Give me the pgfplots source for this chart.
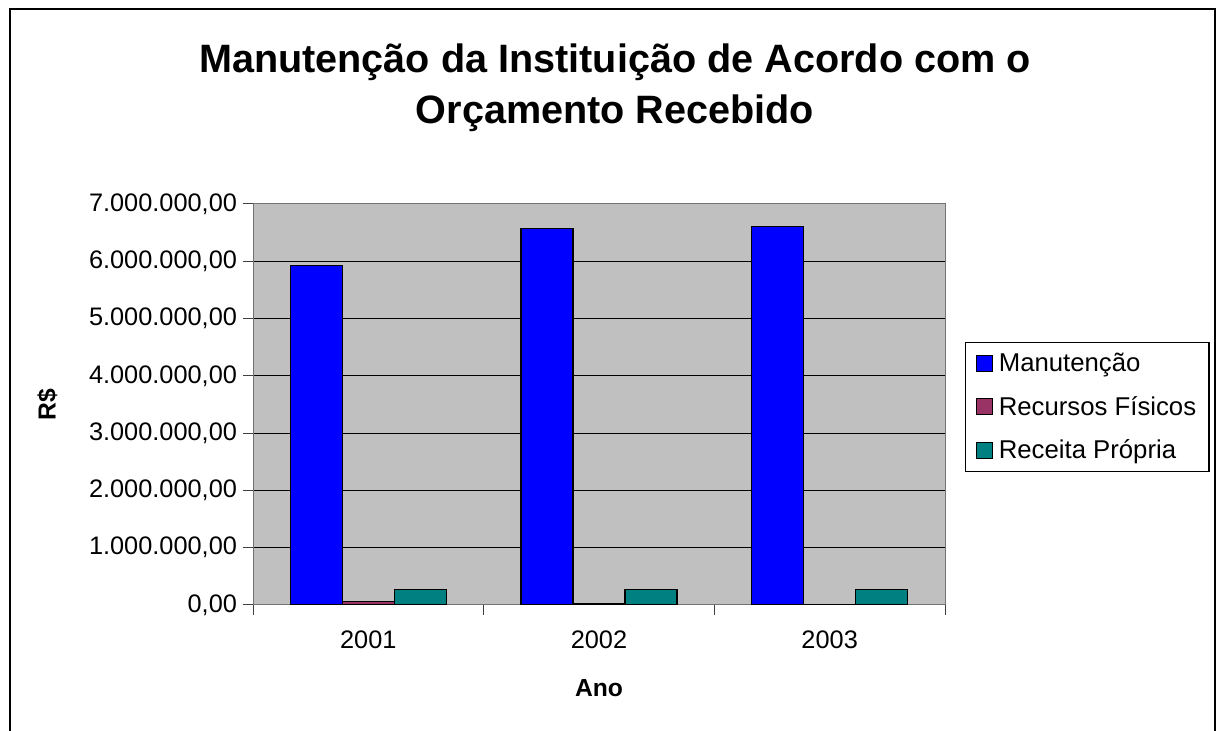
\documentclass[border=0pt]{standalone}
\usepackage{pgfplots}
\pgfplotsset{compat=1.18}
\usepackage{fontspec}
\setmainfont{Liberation Sans}
\definecolor{manut}{RGB}{0,0,255}
\definecolor{recfis}{RGB}{153,51,102}
\definecolor{recprop}{RGB}{0,128,128}
\definecolor{plotbg}{RGB}{192,192,192}
\pgfplotsset{sqlegend/.style={legend image code/.code={\draw[##1,/tikz/.cd,draw=black,line width=0.75pt] (0pt,-6pt) rectangle (12pt,6pt); \path (14.5pt,0pt);}}}
\begin{document}
\begin{tikzpicture}[x=1pt,y=1pt]
\useasboundingbox (0,0) rectangle (912.75,548.25);
\fill[white] (0,0) rectangle (912.75,548.25);
\draw[line width=1.5pt] (7.5,-10) -- (7.5,541.5) -- (911.25,541.5) -- (911.25,-10);
\node[anchor=base,font=\bfseries\fontsize{29.7}{36}\selectfont] at (461.25,493.5) {Manutenção da Instituição de Acordo com o};
\node[anchor=base,font=\bfseries\fontsize{29.7}{36}\selectfont] at (461.25,455.25) {Orçamento Recebido};
\node[anchor=base,font=\bfseries\fontsize{18.5}{22}\selectfont] at (449.25,25.5) {Ano};
\node[rotate=90,font=\bfseries\fontsize{18.5}{22}\selectfont] at (35.6,244.5) {R\$};
\begin{axis}[
  at={(189.75pt,94.5pt)}, anchor=south west,
  width=519pt, height=300.75pt, scale only axis,
  xmin=0.5, xmax=3.5, ymin=0, ymax=7000000,
  ybar=0pt, bar width=39pt,
  xtick={1,2,3}, xticklabels={2001,2002,2003},
  major x tick style={draw=none},
  minor xtick={0.5,1.5,2.5,3.5},
  xtick pos=left, ytick pos=left,
  ytick={0,1000000,2000000,3000000,4000000,5000000,6000000,7000000},
  yticklabels={{0,00},{1.000.000,00},{2.000.000,00},{3.000.000,00},{4.000.000,00},{5.000.000,00},{6.000.000,00},{7.000.000,00}},
  scaled y ticks=false,
  tick align=outside,
  major tick length=7.5pt, minor tick length=7.5pt,
  tick style={black!75, line width=0.75pt},
  ymajorgrids, grid style={black, line width=0.75pt},
  axis background/.style={fill=plotbg},
  axis line style={draw=black!55, line width=0.75pt},
  ticklabel style={font=\fontsize{19}{23}\selectfont},
  yticklabel style={xshift=-1pt},
  xticklabel style={yshift=-8pt},
  /pgf/number format/assume math mode=true,
  legend style={at={(1.0289,0.656)}, anchor=north west, draw=black, line width=1pt,
    fill=white, font=\fontsize{19.3}{23}\selectfont, row sep=13pt, inner xsep=7.5pt, inner ysep=6pt},
  legend cell align=left,
]
\addplot[fill=manut, draw=black, line width=1pt, sqlegend] coordinates {(1,5930000) (2,6570000) (3,6610000)};
\addplot[fill=recfis, draw=black, line width=1pt, sqlegend] coordinates {(1,60000) (2,22000) (3,0)};
\addplot[fill=recprop, draw=black, line width=1pt, sqlegend] coordinates {(1,267000) (2,270000) (3,272000)};
\legend{Manutenção,Recursos Físicos,Receita Própria}
\end{axis}
\end{tikzpicture}
\end{document}
